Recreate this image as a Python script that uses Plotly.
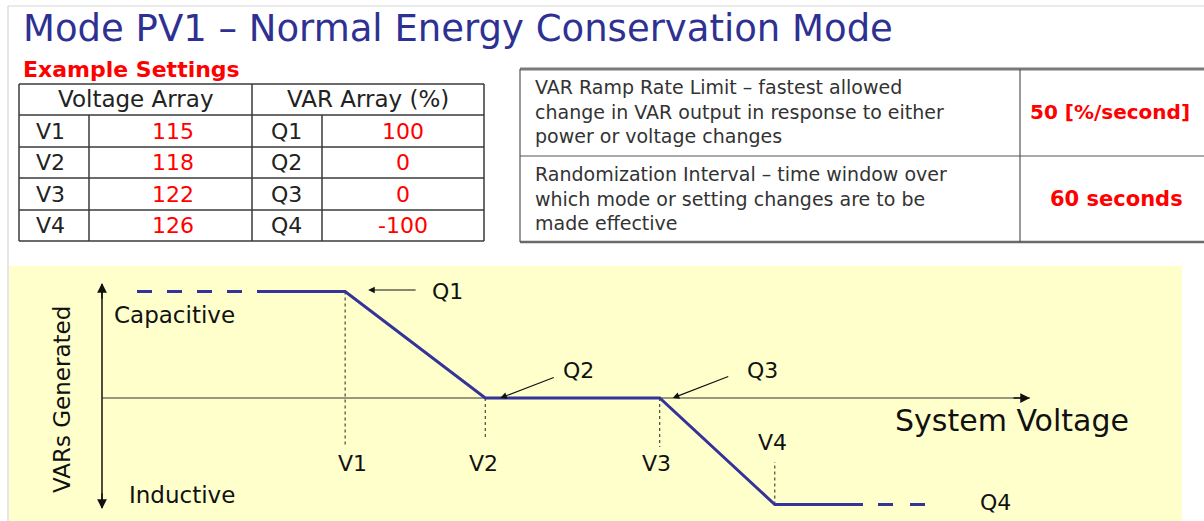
import plotly.graph_objects as go

# ---------------- data ----------------
title_text = "Mode PV1 – Normal Energy Conservation Mode"
settings_label = "Example Settings"
v_header = "Voltage Array"
q_header = "VAR Array (%)"
v_labels = ["V1", "V2", "V3", "V4"]
v_values = [115, 118, 122, 126]
q_labels = ["Q1", "Q2", "Q3", "Q4"]
q_values = [100, 0, 0, -100]
param_desc = [
    ["VAR Ramp Rate Limit – fastest allowed",
     "change in VAR output in response to either",
     "power or voltage changes"],
    ["Randomization Interval – time window over",
     "which mode or setting changes are to be",
     "made effective"],
]
param_values = ["50 [%/second]", "60 seconds"]
# schematic positions of V1..V4 along the "System Voltage" axis (0 = origin, 100 = arrow tip)
v_schematic = [26.2, 41.3, 60.1, 72.5]
x_axis_label = "System Voltage"
y_axis_label = "VARs Generated"
upper_label = "Capacitive"
lower_label = "Inductive"

# ---------------- layout helpers ----------------
W, H = 1204, 521
FONT = "DejaVu Sans"
BLUE = "#333399"
RED = "#FF0000"
TXT = "#222222"

def px(x):
    return x / W

def py(y):
    return 1 - y / H

# diagram axis mapping (origin of the drawn axes at pixel (102, 398))
X0, XS = 102, 9.28
Y0, YS = 398, 1.065

def dx(p):
    return (p - X0) / XS

def dy(p):
    return (Y0 - p) / YS

fig = go.Figure()
shapes = []
ann = []

# page frame and yellow diagram background
shapes.append(dict(type="rect", xref="paper", yref="paper", x0=px(9), x1=px(1182),
                   y0=py(266), y1=py(H + 5), fillcolor="#FFFFCC", line=dict(width=0), layer="below"))
shapes.append(dict(type="line", xref="paper", yref="paper", x0=px(8), x1=px(8), y0=py(6), y1=py(H + 5),
                   line=dict(color="#D6D6D6", width=1.2), layer="below"))
shapes.append(dict(type="line", xref="paper", yref="paper", x0=px(8), x1=px(W + 5), y0=py(6), y1=py(6),
                   line=dict(color="#D6D6D6", width=1.2), layer="below"))

# title
ann.append(dict(text=title_text, xref="paper", yref="paper", x=px(21), y=py(28), xanchor="left",
                yanchor="middle", showarrow=False, font=dict(family=FONT, size=37, color="#2E3192")))
ann.append(dict(text="<b>" + settings_label + "</b>", xref="paper", yref="paper", x=px(21), y=py(70),
                xanchor="left", yanchor="middle", showarrow=False,
                font=dict(family=FONT, size=22, color=RED)))

# ---------------- left table ----------------
LC = "#3A3A3A"
tx = [19, 89, 252, 322, 484]
ty = [84, 115, 147, 178, 210, 241]

def hline(x0, x1, y, color=LC, w=1.5):
    shapes.append(dict(type="line", xref="paper", yref="paper", x0=px(x0), x1=px(x1), y0=py(y), y1=py(y),
                       line=dict(color=color, width=w)))

def vline(x, y0, y1, color=LC, w=1.5):
    shapes.append(dict(type="line", xref="paper", yref="paper", x0=px(x), x1=px(x), y0=py(y0), y1=py(y1),
                       line=dict(color=color, width=w)))

for y in ty:
    hline(tx[0], tx[-1], y)
vline(tx[0], ty[0], ty[-1])
vline(tx[2], ty[0], ty[-1])
vline(tx[4], ty[0], ty[-1])
vline(tx[1], ty[1], ty[-1])
vline(tx[3], ty[1], ty[-1])

def cell_text(t, xc, yc, color=TXT, size=22, bold=False):
    s = "<b>%s</b>" % t if bold else t
    ann.append(dict(text=s, xref="paper", yref="paper", x=px(xc), y=py(yc), xanchor="center",
                    yanchor="middle", showarrow=False, font=dict(family=FONT, size=size, color=color)))

cell_text(v_header, (tx[0] + tx[2]) / 2, (ty[0] + ty[1]) / 2, size=23)
cell_text(q_header, (tx[2] + tx[4]) / 2, (ty[0] + ty[1]) / 2, size=23)
for i in range(4):
    yc = (ty[i + 1] + ty[i + 2]) / 2
    cell_text(v_labels[i], 50, yc)
    cell_text(str(v_values[i]), (tx[1] + tx[2]) / 2 + 2, yc, color=RED)
    cell_text(q_labels[i], 286, yc)
    cell_text(str(q_values[i]), (tx[3] + tx[4]) / 2, yc, color=RED)

# ---------------- right table ----------------
RC = "#555555"
rx0, rxd, rx1 = 520, 1020, W + 10
ry = [69, 156, 242]
hline(rx0, rx1, ry[0], color="#7A7A7A", w=3)
hline(rx0, rx1, ry[1], color=RC, w=1.2)
hline(rx0, rx1, ry[2], color="#6A6A6A", w=2.5)
vline(rx0, ry[0], ry[2], color=RC, w=1.2)
vline(rxd, ry[0], ry[2], color=RC, w=1.2)

block_y = [111, 198]
for r in range(2):
    ann.append(dict(text="<br>".join(param_desc[r]), xref="paper", yref="paper", x=px(533), y=py(block_y[r]),
                    xanchor="left", yanchor="middle", align="left", showarrow=False,
                    font=dict(family=FONT, size=19, color="#333333")))
ann.append(dict(text="<b>" + param_values[0] + "</b>", xref="paper", yref="paper", x=px(1028), y=py(112),
                xanchor="left", yanchor="middle", showarrow=False, font=dict(family=FONT, size=20, color=RED)))
ann.append(dict(text="<b>" + param_values[1] + "</b>", xref="paper", yref="paper", x=px(1116), y=py(199),
                xanchor="center", yanchor="middle", showarrow=False, font=dict(family=FONT, size=21, color=RED)))

# ---------------- diagram ----------------
AX = "#111111"
# axes lines (below the curve)
shapes.append(dict(type="line", xref="x", yref="y", x0=0, x1=0, y0=dy(508), y1=dy(284),
                   line=dict(color=AX, width=1.5), layer="below"))
shapes.append(dict(type="line", xref="x", yref="y", x0=0, x1=100, y0=0, y1=0,
                   line=dict(color="#333333", width=1.2), layer="below"))
# arrow heads
for (hx, hy, tx_, ty_) in [(0, dy(283), 0, dy(300)), (0, dy(509), 0, dy(492)), (100, 0, dx(1012), 0)]:
    ann.append(dict(x=hx, y=hy, ax=tx_, ay=ty_, xref="x", yref="y", axref="x", ayref="y", text="",
                    showarrow=True, arrowhead=2, arrowsize=1.3, arrowwidth=1.5, arrowcolor=AX, standoff=0))

# dotted guides from the breakpoints
guide_ends = [dy(445), dy(438), dy(447), dy(462)]
for i in range(4):
    shapes.append(dict(type="line", xref="x", yref="y", x0=v_schematic[i], x1=v_schematic[i],
                       y0=q_values[i], y1=guide_ends[i],
                       line=dict(color="#222222", width=1, dash="dot"), layer="below"))

# the volt-var curve
left_ext_solid = dx(267)
left_ext_dash = dx(137)
right_ext_solid = dx(863)
right_ext_dash_start = dx(878)
right_ext_dash = dx(928)
curve_x = [left_ext_solid] + v_schematic + [right_ext_solid]
curve_y = [q_values[0]] + q_values + [q_values[-1]]
fig.add_trace(go.Scatter(x=curve_x, y=curve_y, mode="lines", line=dict(color=BLUE, width=3),
                         hoverinfo="skip", showlegend=False))
fig.add_trace(go.Scatter(x=[left_ext_dash, left_ext_solid], y=[q_values[0], q_values[0]], mode="lines",
                         line=dict(color=BLUE, width=3, dash="15px,15px"), hoverinfo="skip", showlegend=False))
fig.add_trace(go.Scatter(x=[right_ext_dash_start, right_ext_dash],
                         y=[q_values[-1], q_values[-1]], mode="lines",
                         line=dict(color=BLUE, width=3, dash="15px,17px"), hoverinfo="skip", showlegend=False))

# V labels
v_label_y = [dy(463), dy(463), dy(463), dy(442)]
v_label_dx = [7, -2, -3, -2]
for i in range(4):
    ann.append(dict(text=v_labels[i], x=v_schematic[i] + v_label_dx[i] / XS, y=v_label_y[i], xref="x", yref="y",
                    showarrow=False, xanchor="center", yanchor="middle",
                    font=dict(family=FONT, size=22, color=AX)))

# Q labels and pointer arrows
q_label_pos = [(v_schematic[0] + 102 / XS, dy(291)),
               (v_schematic[1] + 93 / XS, dy(370)),
               (v_schematic[2] + 103 / XS, dy(370)),
               (dx(995), dy(502))]
for i in range(4):
    ann.append(dict(text=q_labels[i], x=q_label_pos[i][0], y=q_label_pos[i][1], xref="x", yref="y",
                    showarrow=False, xanchor="center", yanchor="middle",
                    font=dict(family=FONT, size=22, color=AX)))
pointers = [
    (v_schematic[0] + 23 / XS, dy(290), v_schematic[0] + 72 / XS, dy(290)),
    (v_schematic[1] + 15 / XS, q_values[1], v_schematic[1] + 70 / XS, dy(377)),
    (v_schematic[2] + 13 / XS, q_values[2], v_schematic[2] + 70 / XS, dy(376)),
]
for (hx, hy, tx_, ty_) in pointers:
    ann.append(dict(x=hx, y=hy, ax=tx_, ay=ty_, xref="x", yref="y", axref="x", ayref="y", text="",
                    showarrow=True, arrowhead=2, arrowsize=1.2, arrowwidth=1.1, arrowcolor=AX, standoff=0))

# axis texts
ann.append(dict(text=x_axis_label, x=dx(1012), y=dy(420), xref="x", yref="y", showarrow=False,
                xanchor="center", yanchor="middle", font=dict(family=FONT, size=30, color=AX)))
ann.append(dict(text=y_axis_label, x=dx(62), y=dy(400), xref="x", yref="y", showarrow=False, textangle=-90,
                xanchor="center", yanchor="middle", font=dict(family=FONT, size=23, color=AX)))
ann.append(dict(text=upper_label, x=dx(112), y=dy(315), xref="x", yref="y", showarrow=False,
                xanchor="left", yanchor="middle", font=dict(family=FONT, size=23, color=AX)))
ann.append(dict(text=lower_label, x=dx(127), y=dy(495), xref="x", yref="y", showarrow=False,
                xanchor="left", yanchor="middle", font=dict(family=FONT, size=23, color=AX)))

fig.update_layout(
    width=W, height=H, margin=dict(l=0, r=0, t=0, b=0),
    paper_bgcolor="white", plot_bgcolor="rgba(0,0,0,0)",
    xaxis=dict(range=[dx(0), dx(W)], visible=False, fixedrange=True, domain=[0, 1]),
    yaxis=dict(range=[dy(H), dy(0)], visible=False, fixedrange=True, domain=[0, 1]),
    shapes=shapes, annotations=ann, showlegend=False,
)

fig.write_html("out.html", config={"displayModeBar": False},
               post_script="document.body.style.margin='0px';document.body.style.overflow='hidden';")
